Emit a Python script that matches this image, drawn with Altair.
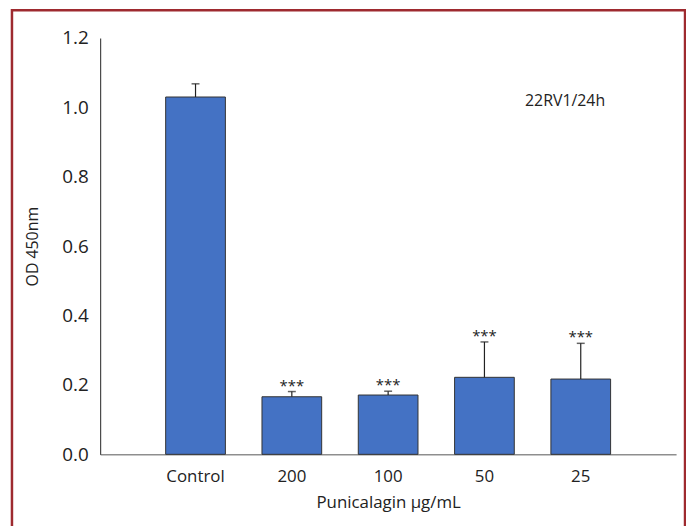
import altair as alt
import pandas as pd

categories = ["Control", "200", "100", "50", "25"]
means = [1.030, 0.166, 0.171, 0.222, 0.217]
sds = [0.038, 0.015, 0.011, 0.102, 0.103]
sig = ["", "***", "***", "***", "***"]

df = pd.DataFrame({"cat": categories, "mean": means, "sd": sds, "sig": sig})
df["top"] = df["mean"] + df["sd"]

FONT = "Open Sans, sans-serif"
TXT = "#222222"

xenc = alt.X("cat:N", sort=categories,
             scale=alt.Scale(paddingInner=0.38, paddingOuter=0.68),
             axis=alt.Axis(title="Punicalagin µg/mL", labelAngle=0, ticks=False,
                           labelPadding=14, titlePadding=11, domainColor="#555555",
                           labelFontSize=17, titleFontSize=17, labelColor=TXT,
                           titleColor=TXT, titleFontWeight="normal",
                           labelFont=FONT, titleFont=FONT, grid=False))
yscale = alt.Scale(domain=[0, 1.2], nice=False)

bars = alt.Chart(df).mark_bar(color="#4472C4", stroke="#333333", strokeWidth=1).encode(
    x=xenc,
    y=alt.Y("mean:Q", scale=yscale,
            axis=alt.Axis(title="OD 450nm", values=[0, 0.2, 0.4, 0.6, 0.8, 1.0, 1.2],
                          format=".1f", ticks=False, grid=False, labelPadding=12,
                          titlePadding=22, domainColor="#222222",
                          labelFontSize=19, titleFontSize=16, labelColor=TXT,
                          titleColor=TXT, titleFontWeight="normal",
                          labelFont=FONT, titleFont=FONT)),
)

err = alt.Chart(df).mark_rule(color="#222222", strokeWidth=1.2).encode(
    x=alt.X("cat:N", sort=categories), y="mean:Q", y2="top:Q")
caps = alt.Chart(df).mark_tick(color="#222222", size=8, thickness=1.5).encode(
    x=alt.X("cat:N", sort=categories), y="top:Q")
stars = alt.Chart(df).mark_text(fontSize=15, color=TXT, baseline="alphabetic", dy=-1,
                                font=FONT).encode(
    x=alt.X("cat:N", sort=categories), y="top:Q", text="sig:N")

label = alt.Chart(alt.Data(values=[{"t": "22RV1/24h"}])).mark_text(
    fontSize=16, color=TXT, font=FONT, align="center", baseline="middle").encode(
    x=alt.value(469), y=alt.value(64), text="t:N")

frame = alt.Chart(alt.Data(values=[{"a": 1}])).mark_rect(
    fillOpacity=0, stroke="#9E2A2F", strokeWidth=2.5).encode(
    x=alt.value(-89), x2=alt.value(590), y=alt.value(-28), y2=alt.value(540))

chart = alt.layer(bars, err, caps, stars, label, frame).properties(
    width=581, height=420,
    background="white",
    autosize=alt.AutoSizeParams(type="none"),
    padding={"left": 93, "top": 28, "right": 10, "bottom": 70},
).configure_view(strokeWidth=0, stroke="transparent").configure_axis(grid=False)

chart.save("out.html", embed_options={"renderer": "svg", "actions": False})
